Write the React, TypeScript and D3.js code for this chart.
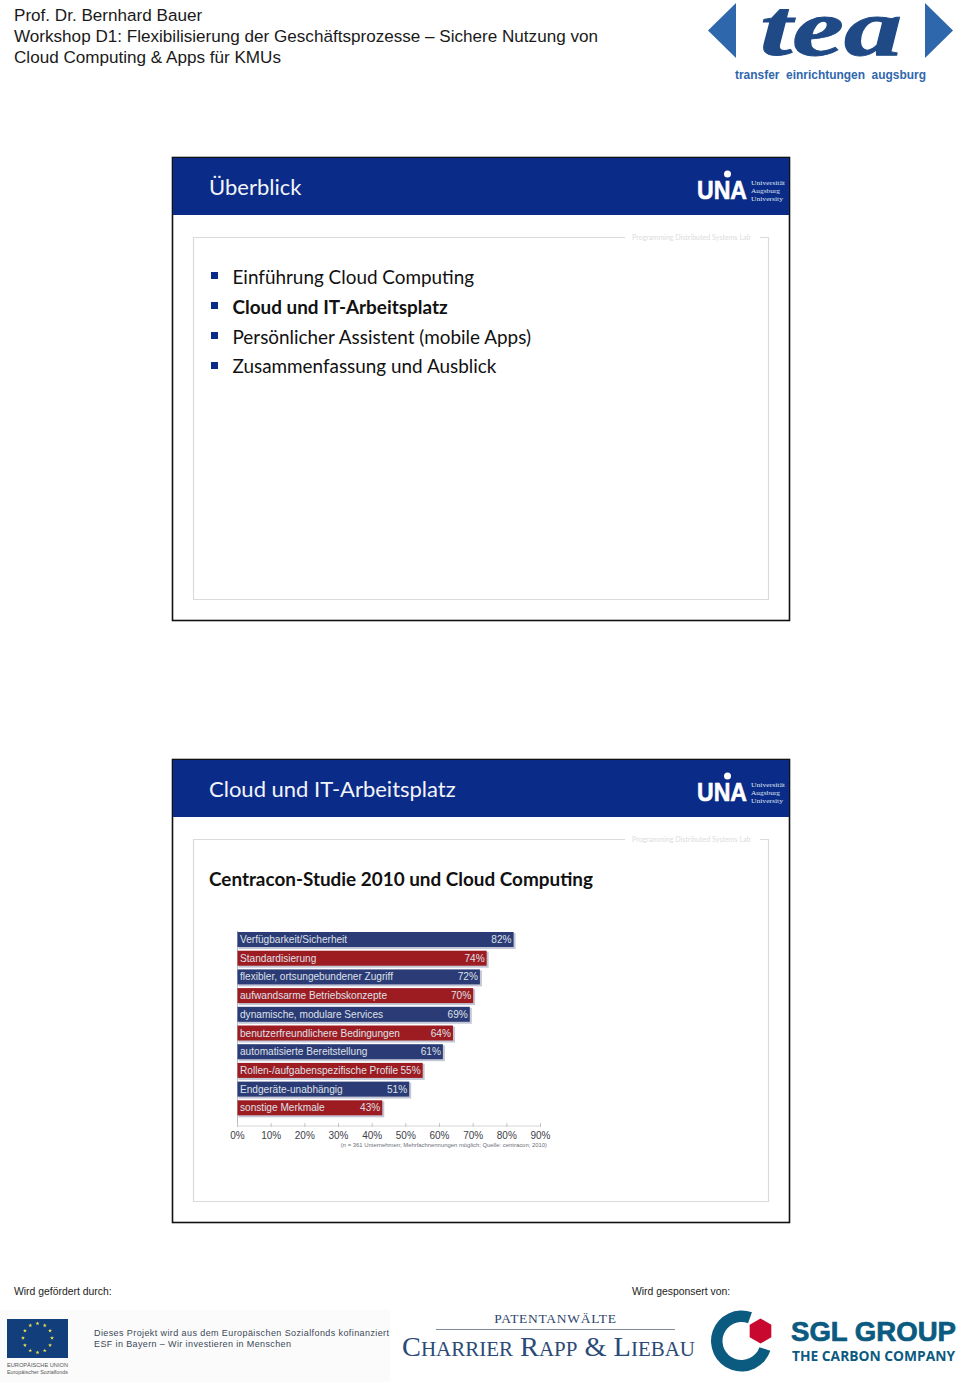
import React from "react";
import * as d3 from "d3";

const categories = ["Verfügbarkeit/Sicherheit","Standardisierung","flexibler, ortsungebundener Zugriff","aufwandsarme Betriebskonzepte","dynamische, modulare Services","benutzerfreundlichere Bedingungen","automatisierte Bereitstellung","Rollen-/aufgabenspezifische Profile","Endgeräte-unabhängig","sonstige Merkmale"];
const shares = [82,74,72,70,69,64,61,55,51,43];
const axisTicks = [0,10,20,30,40,50,60,70,80,90];
const headerLines = ["Prof. Dr. Bernhard Bauer","Workshop D1: Flexibilisierung der Geschäftsprozesse – Sichere Nutzung von","Cloud Computing & Apps für KMUs"];
const agenda = ["Einführung Cloud Computing","Cloud und IT-Arbeitsplatz","Persönlicher Assistent (mobile Apps)","Zusammenfassung und Ausblick"];
const agendaBold = [false,true,false,false];

const x = d3.scaleLinear().domain([0,90]).range([237.5,540.5]);
const y = d3.scaleBand<string>().domain(categories).range([932,1115.3]).paddingInner(0.198).paddingOuter(0);
const slideFont = "Lato, 'Open Sans', sans-serif";
const sans = "'Liberation Sans', Arial, sans-serif";
const serif = "'Liberation Serif', serif";

function Slide({top,title}:{top:number;title:string}){
  return <g transform={`translate(0,${top})`}>
    <rect x={172.5} y={0.5} width={617} height={463} fill="#fff" stroke="#111" strokeWidth={1.6}/>
    <rect x={173} y={1} width={616} height={57} fill="#0a2b87"/>
    <text x={209} y={37.5} fontFamily={slideFont} fontSize={22} fill="#f2f4fa">{title}</text>
    <UniLogo/>
    <path d="M625 80.5H193.5V442.5H768.5V80.5H760" fill="none" stroke="#d9dbd8" strokeWidth={1.2}/>
    <text x={632} y={83} fontFamily={slideFont} fontSize={7.1} fill="#dcdcdc">Programming Distributed Systems Lab</text>
  </g>;
}
function UniLogo(){
  return <g>
    <text x={697} y={42} fontFamily={sans} fontWeight={700} fontSize={26.5} fill="#fff" stroke="#fff" strokeWidth={0.6} textLength={50} lengthAdjust="spacingAndGlyphs">UNA</text>
    <circle cx={727.5} cy={17} r={3.5} fill="#fff"/>
    {["Universität","Augsburg","University"].map((t,i)=><text key={t} x={751} y={28+i*8} fontFamily={serif} fontSize={6.9} fill="#dfe4f2" textLength={i===1?29:i===0?34:32} lengthAdjust="spacingAndGlyphs">{t}</text>)}
  </g>;
}
function EuStars(){
  const a = d3.range(12).map(i=>i*Math.PI/6);
  const star = d3.symbol().type(d3.symbolStar).size(5);
  return <g>{a.map((v,i)=><path key={i} d={star() as string} fill="#f2e24a" transform={`translate(${37.5+14.5*Math.sin(v)},${1338-14.5*Math.cos(v)})`}/>)}</g>;
}
function SglLogo(){
  const ring = d3.arc()({innerRadius:19,outerRadius:30.5,startAngle:1.9,endAngle:2*Math.PI+0.35} as any) as string;
  const hex = d3.range(6).map(i=>{const t=i*Math.PI/3; return `${760.5+12.5*Math.sin(t)},${1331-12.5*Math.cos(t)}`;}).join(" ");
  return <g>
    <path d={ring} transform="translate(741.5,1341)" fill="#0b5a80"/>
    <polygon points={hex} fill="#c9082f"/>
    <text x={791} y={1341} fontFamily={sans} fontWeight={700} fontSize={27} fill="#0b5a80" stroke="#0b5a80" strokeWidth={0.7} textLength={165} lengthAdjust="spacingAndGlyphs">SGL GROUP</text>
    <text x={792} y={1361} fontFamily={"'Open Sans', sans-serif"} fontWeight={700} fontSize={13.5} fill="#0b5a80" textLength={163} lengthAdjust="spacingAndGlyphs">THE CARBON COMPANY</text>
  </g>;
}

export default function App(){
  return <svg width={960} height={1382} viewBox="0 0 960 1382" style={{position:"absolute",left:0,top:0,background:"#fff"}}>
    <rect width={960} height={1382} fill="#fff"/>
    {headerLines.map((t,i)=><text key={i} x={14} y={21+i*21} fontFamily={sans} fontSize={17.1} fill="#1a1a1a">{t}</text>)}

    <path d="M736 3V58L708 30.5Z" fill="#2f67ad"/>
    <path d="M925 3V58L953 30.5Z" fill="#2f67ad"/>
    <text x={760} y={55} fontFamily={serif} fontWeight={700} fontStyle="italic" fontSize={80} fill="#1f4a86" stroke="#1f4a86" strokeWidth={1} textLength={142} lengthAdjust="spacingAndGlyphs">tea</text>
    <text x={735} y={79} fontFamily={sans} fontWeight={700} fontSize={13.5} fill="#2f67ad" textLength={191} lengthAdjust="spacingAndGlyphs" style={{whiteSpace:"pre"}}>transfer  einrichtungen  augsburg</text>

    <Slide top={157} title="Überblick"/>
    {agenda.map((t,i)=><g key={t}>
      <rect x={211} y={272+i*30} width={7} height={7} fill="#0a2b87"/>
      <text x={232.5} y={284+i*29.8} fontFamily={slideFont} fontSize={18.9} fontWeight={agendaBold[i]?700:400} fill="#111">{t}</text>
    </g>)}

    <Slide top={759} title="Cloud und IT-Arbeitsplatz"/>
    <text x={209} y={886} fontFamily={slideFont} fontWeight={700} fontSize={18.9} fill="#111">Centracon-Studie 2010 und Cloud Computing</text>

    <line x1={x(0)} x2={x(0)} y1={931} y2={1126} stroke="#b8bac0"/>
    <line x1={x(0)} x2={x(90)} y1={1126} y2={1126} stroke="#d5d6d9"/>
    {axisTicks.map(t=><g key={t}>
      <line x1={x(t)} x2={x(t)} y1={1123} y2={1127} stroke="#c2c4c9"/>
      <text x={x(t)} y={1138.5} textAnchor="middle" fontFamily={sans} fontSize={10} fill="#3d4048">{t}%</text>
    </g>)}
    {categories.map((c,i)=>{
      const by = y(c)!, bh = y.bandwidth(), fill = i%2===0 ? "#2b3b75" : "#9c1c22";
      return <g key={c}>
        <rect x={x(0)+1} y={by+1} width={x(shares[i])-x(0)+1} height={bh+1} fill="#c4c8d6"/>
        <rect x={x(0)} y={by} width={x(shares[i])-x(0)} height={bh} fill={fill}/>
        <text x={240} y={by+bh/2+3.6} fontFamily={sans} fontSize={10.1} fill="#dfe1e8">{c}</text>
        <text x={x(shares[i])-2} y={by+bh/2+3.6} textAnchor="end" fontFamily={sans} fontSize={10.1} fill="#dfe1e8">{shares[i]}%</text>
      </g>;
    })}
    <text x={547} y={1147} textAnchor="end" fontFamily={sans} fontSize={5.9} fill="#6d7078">(n = 361 Unternehmen; Mehrfachnennungen möglich; Quelle: centracon; 2010)</text>

    <text x={14} y={1295} fontFamily={sans} fontSize={10.4} fill="#222">Wird gefördert durch:</text>
    <text x={632} y={1295} fontFamily={sans} fontSize={10.4} fill="#222">Wird gesponsert von:</text>

    <rect x={0} y={1310} width={390} height={72} fill="#fbfbfb"/>
    <rect x={7} y={1319} width={61} height={39} fill="#123f7c"/>
    <EuStars/>
    <text x={7} y={1367} fontFamily={sans} fontSize={6} fill="#555" textLength={61} lengthAdjust="spacingAndGlyphs">EUROPÄISCHE UNION</text>
    <text x={7} y={1374} fontFamily={sans} fontSize={6} fill="#555" textLength={61} lengthAdjust="spacingAndGlyphs">Europäischer Sozialfonds</text>
    <text x={94} y={1336} fontFamily={sans} fontSize={9} fill="#3c4858" textLength={295} lengthAdjust="spacing">Dieses Projekt wird aus dem Europäischen Sozialfonds kofinanziert</text>
    <text x={94} y={1347} fontFamily={sans} fontSize={9} fill="#3c4858" textLength={197} lengthAdjust="spacing">ESF in Bayern – Wir investieren in Menschen</text>

    <text x={555.5} y={1323} textAnchor="middle" fontFamily={serif} fontSize={13.5} fill="#2f466b" letterSpacing={0.7}>PATENTANWÄLTE</text>
    <line x1={436} x2={675} y1={1329.5} y2={1329.5} stroke="#7f8ba0"/>
    <text x={402} y={1356} fontFamily={serif} fontSize={27} fill="#2b4a78" textLength={293} lengthAdjust="spacingAndGlyphs">C<tspan fontSize={20}>HARRIER</tspan> R<tspan fontSize={20}>APP</tspan> &amp; L<tspan fontSize={20}>IEBAU</tspan></text>

    <SglLogo/>
  </svg>;
}
